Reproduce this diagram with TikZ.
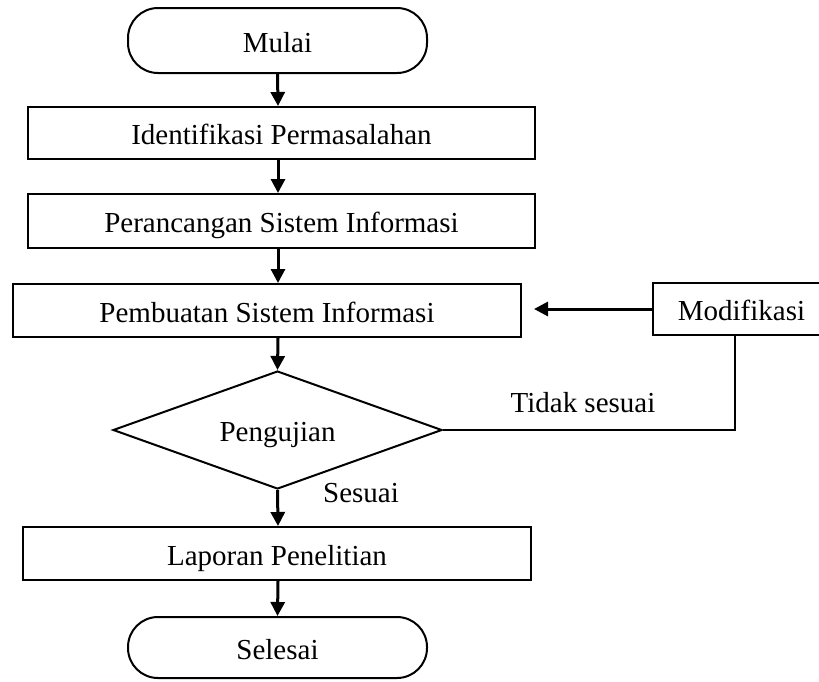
\documentclass[tikz,border=0pt]{standalone}
\usepackage{fontspec}
\setmainfont{Liberation Serif}
\usetikzlibrary{shapes.geometric,arrows.meta}
\tikzset{
  txt/.style={font=\fontsize{29}{34}\selectfont, text height=23pt, text depth=0pt},
  procbox/.style={txt, draw, line width=2pt, inner sep=0pt, rectangle},
  termbox/.style={txt, draw, line width=2pt, inner sep=0pt, rectangle, rounded corners=30pt},
  decbox/.style={txt, draw, line width=2pt, inner sep=0pt, diamond, shape aspect=2.8, minimum width=329pt, minimum height=118pt},
  arr/.style={line width=3pt, -{Triangle[width=14pt,length=14pt]}},
  conn/.style={line width=2.2pt},
  lbl/.style={txt, inner sep=0pt}
}
\begin{document}
\begin{tikzpicture}[x=1pt,y=-1pt]
\clip (0,0) rectangle (819,681);
\node[termbox, minimum width=299pt, minimum height=65pt] (mulai) at (277.5,40.5) {Mulai};
\node[procbox, minimum width=507pt, minimum height=52pt] (b1) at (281.5,133) {Identifikasi Permasalahan};
\node[procbox, minimum width=507pt, minimum height=54pt] (b2) at (281.5,221) {Perancangan Sistem Informasi};
\node[procbox, minimum width=508pt, minimum height=53pt] (b3) at (267,310.5) {Pembuatan Sistem Informasi};
\node[decbox] (uji) at (277.5,430) {Pengujian};
\node[procbox, minimum width=508pt, minimum height=53pt] (lap) at (277,553.5) {Laporan Penelitian};
\node[termbox, minimum width=299pt, minimum height=61pt] (selesai) at (277.5,647.5) {Selesai};
\node[procbox, minimum width=177pt, minimum height=52pt] (mod) at (741.5,309) {Modifikasi};
\node[lbl] (ts) at (583,400.5) {Tidak sesuai};
\node[lbl] (ss) at (361,490.5) {Sesuai};
\coordinate (ax) at (278,0);
\draw[arr] (mulai.south) -- (ax |- b1.north);
\draw[arr] (ax |- b1.south) -- (ax |- b2.north);
\draw[arr] (ax |- b2.south) -- (ax |- b3.north);
\draw[arr] (ax |- b3.south) -- (uji.north);
\draw[arr] (uji.south) -- (ax |- lap.north);
\draw[arr] (ax |- lap.south) -- (selesai.north);
\draw[arr, shorten >=12pt] (mod.west) -- (b3.east |- mod.west);
\coordinate (c) at (735,0);
\draw[conn] (uji.east) -- (c |- uji.east) -- (c |- mod.south);
\end{tikzpicture}
\end{document}
